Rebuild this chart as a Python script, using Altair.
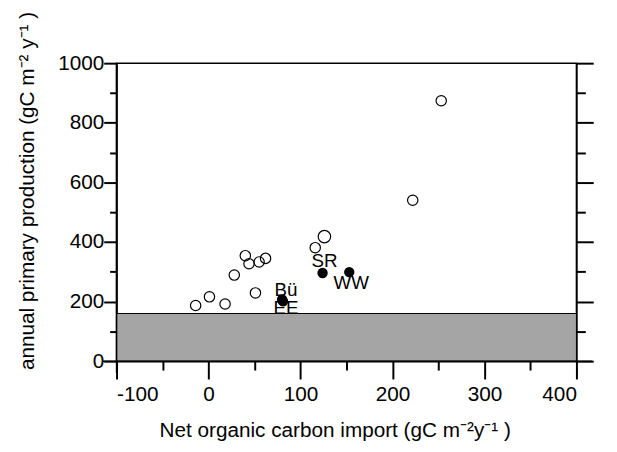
import altair as alt
import pandas as pd

# open circles
open_x = [-14, 1, 18, 28, 40, 44, 55, 62, 51, 116, 126, 222, 253]
open_y = [187, 216, 192, 289, 354, 327, 333, 345, 229, 381, 418, 540, 874]
open_size = [110, 110, 110, 110, 110, 110, 110, 110, 110, 110, 160, 110, 110]

# filled (labelled) sites
site_names = ["Bü", "EE", "SR", "WW"]
site_x = [80, 81, 124, 153]
site_y = [207, 201, 296, 299]

shade_top = 160

x_domain = [-100, 400]
y_domain = [0, 1000]

FONT = "Liberation Sans"

open_df = pd.DataFrame({"x": open_x, "y": open_y, "s": open_size})
site_df = pd.DataFrame({"x": site_x, "y": site_y, "name": site_names})
shade_df = pd.DataFrame({"x1": [x_domain[0]], "x2": [x_domain[1]], "y1": [0], "y2": [shade_top]})

xs = alt.Scale(domain=x_domain, nice=False, zero=False)
ys = alt.Scale(domain=y_domain, nice=False)

x_axis = alt.Axis(
    values=list(range(-100, 401, 50)),
    labelExpr="datum.value % 100 === 0 ? '' + datum.value : ''",
    tickSize={"condition": {"test": "datum.value % 100 === 0", "value": 18}, "value": 9},
    tickColor="black", tickWidth=2, domainColor="black", domainWidth=1.5,
    labelFont=FONT, labelFontSize=21, labelColor="black", labelPadding=5,
    grid=False,
    title="Net organic carbon import (gC m⁻²y⁻¹ )",
    titleFont=FONT, titleFontSize=21, titleFontWeight="normal", titleColor="black",
    titleX=221, titleY=59,
)
y_axis = alt.Axis(
    values=list(range(0, 1001, 100)),
    labelExpr="datum.value % 200 === 0 ? '' + datum.value : ''",
    tickSize={"condition": {"test": "datum.value % 200 === 0", "value": 13}, "value": 7},
    tickColor="black", tickWidth=2, domainColor="black", domainWidth=1.5,
    labelFont=FONT, labelFontSize=21, labelColor="black", labelPadding=0,
    grid=False,
    title="annual primary production (gC m⁻² y⁻¹ )",
    titleFont=FONT, titleFontSize=21, titleFontWeight="normal", titleColor="black",
    titleX=-80, titleY=129,
)
right_axis = alt.Axis(
    orient="right", values=list(range(0, 1001, 100)), labels=False, title=None,
    tickSize={"condition": {"test": "datum.value % 200 === 0", "value": 17}, "value": 9},
    tickColor="black", tickWidth=2, domainColor="black", domainWidth=1.5, grid=False,
)

shade = alt.Chart(shade_df).mark_rect(color="#a5a5a5", stroke="black", strokeWidth=1).encode(
    x=alt.X("x1:Q", scale=xs, axis=x_axis),
    x2="x2:Q",
    y=alt.Y("y1:Q", scale=ys, axis=y_axis),
    y2="y2:Q",
)

opens = alt.Chart(open_df).mark_point(shape="circle", filled=False, color="black", strokeWidth=1.2, opacity=1).encode(
    x=alt.X("x:Q", scale=xs),
    y=alt.Y("y:Q", scale=ys, axis=None),
    size=alt.Size("s:Q", scale=None, legend=None),
)

sites = alt.Chart(site_df).mark_point(shape="circle", filled=True, color="black", size=110, opacity=1).encode(
    x=alt.X("x:Q", scale=xs),
    y=alt.Y("y:Q", scale=ys, axis=right_axis),
)

def lab(name, dx, dy):
    return alt.Chart(site_df[site_df.name == name]).mark_text(
        font=FONT, fontSize=19, color="black", dx=dx, dy=dy
    ).encode(x=alt.X("x:Q", scale=xs), y=alt.Y("y:Q", scale=ys, axis=None), text="name:N")

labels = lab("Bü", 4, -10) + lab("EE", 3, 7) + lab("SR", 2, -12) + lab("WW", 2, 11)

ext_bottom = alt.Chart(shade_df).mark_rule(color="black", strokeWidth=1.5).encode(
    x=alt.value(-14), x2=alt.value(482), y=alt.value(302))
ext_left = alt.Chart(shade_df).mark_rule(color="black", strokeWidth=1.5).encode(
    x=alt.value(0), y=alt.value(0), y2=alt.value(314))

chart = alt.layer(shade, opens, sites, labels, ext_bottom, ext_left).resolve_axis(
    y="independent"
).properties(
    width=466, height=302,
    autosize=alt.AutoSizeParams(type="none"),
    padding={"left": 110, "top": 53, "right": 33, "bottom": 81},
).configure(background="white").configure_view(stroke="black", strokeWidth=1.5)

chart.save("out.html", embed_options={"renderer": "svg", "actions": False})
